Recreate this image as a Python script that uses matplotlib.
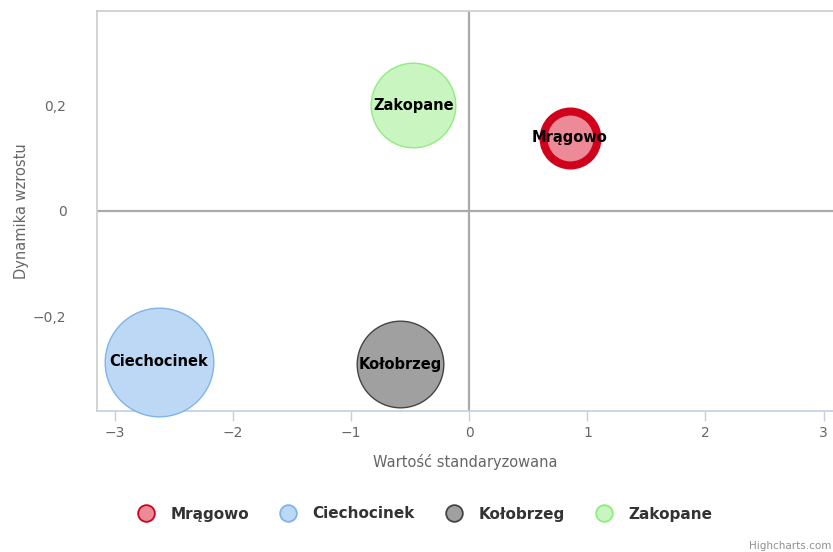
import numpy as np
import matplotlib.pyplot as plt
from matplotlib.lines import Line2D
from matplotlib.ticker import FuncFormatter

# data
miasta = ['Mrągowo', 'Ciechocinek', 'Kołobrzeg', 'Zakopane']
wartosc = [0.85, -2.63, -0.585, -0.475]      # Wartość standaryzowana
dynamika = [0.138, -0.285, -0.289, 0.200]    # Dynamika wzrostu
wielkosc = [31, 55, 44, 43]                  # bubble size (z)

fill = ['#ec8a97', '#bdd8f5', '#a0a0a0', '#c8f5c0']
edge = ['#d0021b', '#7cb5ec', '#444444', '#90ed7d']
edge_w = [5.8, 1.0, 1.0, 1.0]

fig = plt.figure(figsize=(8.33, 5.52), dpi=100)
ax = fig.add_axes([97/833, 141/552, 1 - 97/833, 400/552])

px = 0.72  # points per pixel at 100 dpi
for i in range(len(miasta)):
    r = wielkosc[i]
    d = (2 * r - edge_w[i] / px) * px
    ax.scatter(wartosc[i], dynamika[i], s=d**2, c=fill[i], edgecolors=edge[i],
               linewidths=edge_w[i], zorder=3, clip_on=False)
    ax.text(wartosc[i], dynamika[i], miasta[i], ha='center', va='center',
            fontsize=10.5, fontweight='bold', color='black', zorder=4)

ax.set_xlim(-3.153, 3.08)
ax.set_ylim(-0.3775, 0.3775)
ax.axhline(0, color='#aaaaaa', lw=1.6, zorder=1)
ax.axvline(0, color='#aaaaaa', lw=1.6, zorder=1)

ax.set_xticks([-3, -2, -1, 0, 1, 2, 3])
ax.set_yticks([-0.2, 0, 0.2])
ax.xaxis.set_major_formatter(FuncFormatter(lambda v, p: f'{v:g}'.replace('-', '\u2212')))
ax.yaxis.set_major_formatter(FuncFormatter(
    lambda v, p: '0' if abs(v) < 1e-9 else f'{v:.1f}'.replace('.', ',').replace('-', '\u2212')))
ax.tick_params(axis='x', colors='#C0D0E0', length=7, width=1, labelcolor='#666666',
               labelsize=10, pad=4)
ax.tick_params(axis='y', length=0, labelcolor='#666666', labelsize=10, pad=22)

for s in ['left', 'top']:
    ax.spines[s].set_color('#cccccc')
    ax.spines[s].set_linewidth(1.2)
ax.spines['right'].set_visible(False)
ax.spines['bottom'].set_color('#C0D0E0')
ax.spines['bottom'].set_linewidth(1.2)

ax.set_xlabel('Wartość standaryzowana', fontsize=10.5, color='#666666', labelpad=10)
ax.set_ylabel('Dynamika wzrostu', fontsize=10.5, color='#666666', labelpad=3)

handles = [Line2D([], [], marker='o', ls='', markersize=12, markerfacecolor=fill[i],
                  markeredgecolor=edge[i], markeredgewidth=1.3) for i in range(len(miasta))]
leg = fig.legend(handles, miasta, loc='center', bbox_to_anchor=(0.506, 1 - 514/552), ncol=4,
                 frameon=False, prop={'weight': 'bold', 'size': 11}, labelcolor='#333333',
                 handletextpad=0.6, columnspacing=1.55)

fig.text(831/833, 1 - 546/552, 'Highcharts.com', ha='right', va='center', fontsize=7.5,
         color='#909090')

fig.savefig('out.png', dpi=100)
